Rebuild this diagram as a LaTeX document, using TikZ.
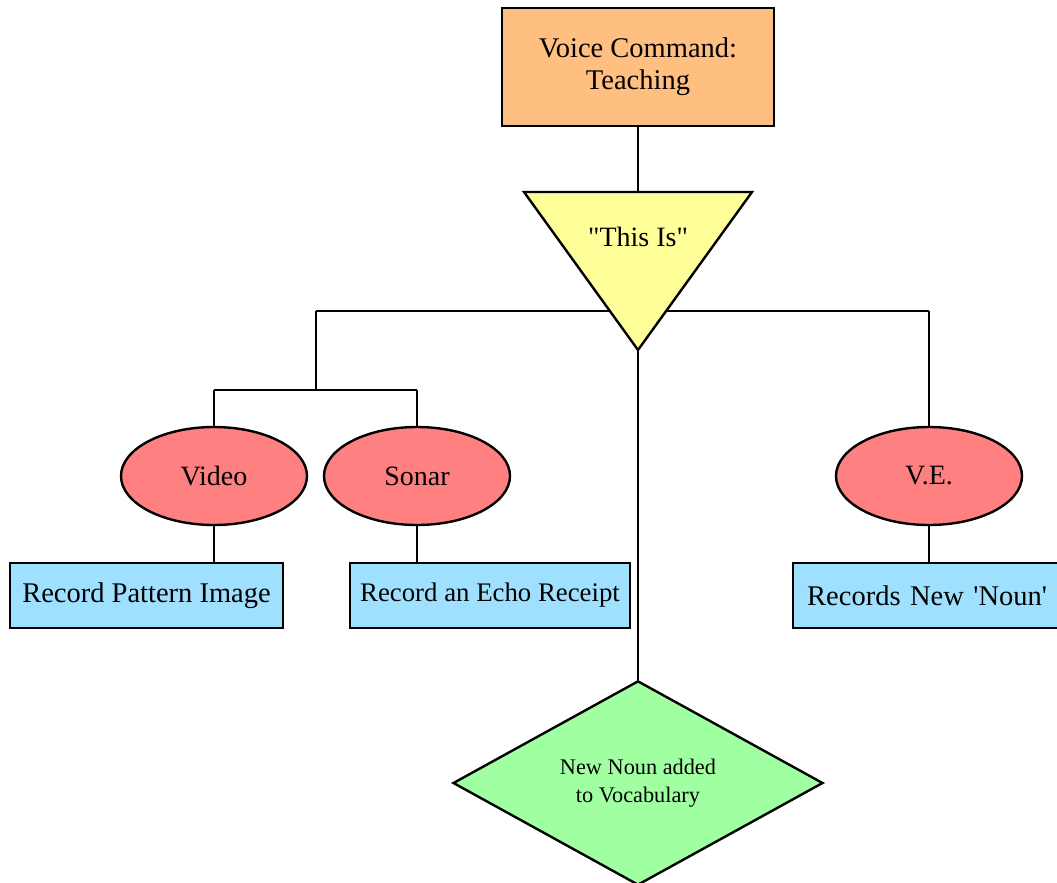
\documentclass[tikz,border=0pt]{standalone}
\usepackage{fontspec}
\setmainfont{Liberation Serif}
\usetikzlibrary{shapes.geometric}
\definecolor{cmdorange}{HTML}{FFBF80}
\definecolor{trigyellow}{HTML}{FFFF99}
\definecolor{sensorred}{HTML}{FF8080}
\definecolor{actionblue}{HTML}{A0E0FF}
\definecolor{resultgreen}{HTML}{A0FFA0}
\tikzset{
  link/.style={line width=2.4pt, black},
  cmdbox/.style={draw, line width=2.4pt, fill=cmdorange, minimum width=272pt, minimum height=118pt,
    align=center, font=\fontsize{28.5}{32}\selectfont, inner sep=0pt},
  sensor/.style={draw, line width=2.4pt, ellipse, fill=sensorred, minimum width=186pt, minimum height=98pt,
    inner sep=0pt, font=\fontsize{28}{32}\selectfont},
  actionbox/.style={draw, line width=2.4pt, fill=actionblue, minimum height=65pt, inner sep=0pt,
    font=\fontsize{28.5}{32}\selectfont},
  result/.style={draw, line width=2.4pt, diamond, fill=resultgreen, minimum width=370pt, minimum height=200pt,
    inner sep=0pt, align=center, font=\fontsize{22.3}{28}\selectfont},
  label/.style={inner sep=0pt, font=\fontsize{28}{32}\selectfont}
}
\begin{document}
\begin{tikzpicture}[x=1pt, y=-1pt]
\useasboundingbox (0,0) rectangle (1057,883);
\fill[white] (0,0) rectangle (1057,883);

% command box
\node[cmdbox] (cmd) at (638,67) {Voice Command:\\Teaching};

% trigger triangle corners and branching points
\coordinate (tl) at (524,192);
\coordinate (tt) at (638,192);
\coordinate (tr) at (752,192);
\coordinate (apex) at (638,350);
\coordinate (jl) at (316,311);
\coordinate (jr) at (929,311);
\coordinate (jm) at (316,390);
\coordinate (jv) at (214,390);
\coordinate (js) at (417,390);

% sensors
\node[sensor] (video) at (214,476) {Video};
\node[sensor] (sonar) at (417,476) {Sonar};
\node[sensor] (ve) at (929,476) {V.E.};

% actions
\node[actionbox, minimum width=273pt] (rpi) at (146.5,595.5) {Record Pattern Image};
\node[actionbox, minimum width=280pt, font=\fontsize{26.8}{30}\selectfont] (rer) at (490,595.5) {Record an Echo Receipt};
\node[actionbox, anchor=west, text width=250pt, align=left, inner xsep=14pt] (rnn) at (792,595.5)
  {Records New \textquotesingle Noun\textquotesingle};

% result
\node[result] (vocab) at (638,783) {New Noun added\\to Vocabulary};

% connectors
\draw[link] (cmd.south) -- (tt);
\draw[link] (jl) -- (jr);
\draw[link] (jl) -- (jm);
\draw[link] (jv) -- (js);
\draw[link] (jv) -- (video.north);
\draw[link] (js) -- (sonar.north);
\draw[link] (jr) -- (ve.north);
\draw[link] (video.south) -- (video.south |- rpi.north);
\draw[link] (sonar.south) -- (sonar.south |- rer.north);
\draw[link] (ve.south) -- (ve.south |- rnn.north);
\draw[link] (apex) -- (vocab.north);

% trigger triangle
\draw[line width=2.4pt, fill=trigyellow, line join=miter] (tl) -- (tr) -- (apex) -- cycle;
\node[label] (thisis) at (638,237) {\textquotedbl This Is\textquotedbl};
\end{tikzpicture}
\end{document}
